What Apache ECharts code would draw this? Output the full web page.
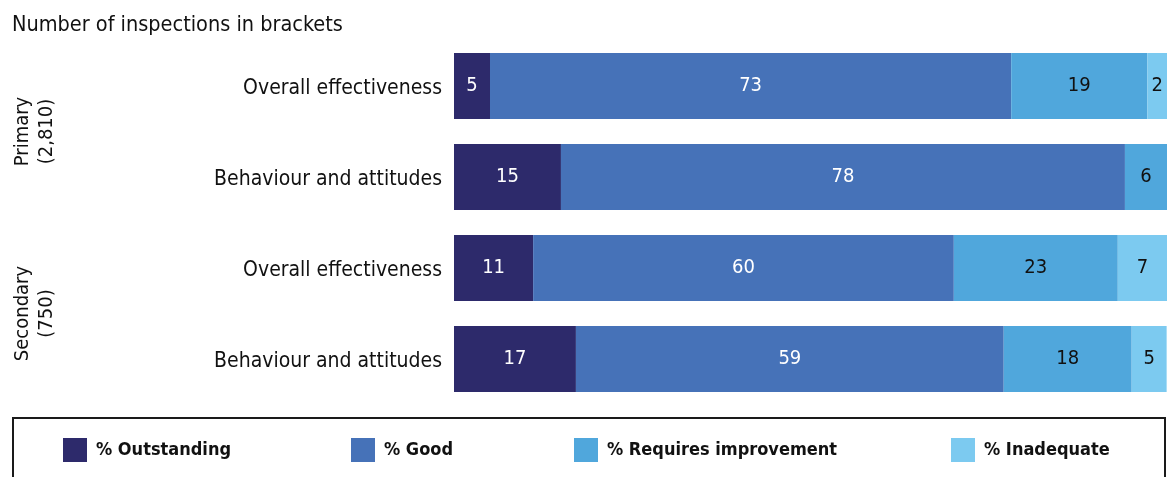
<!DOCTYPE html>
<html><head><meta charset="utf-8">
<script src="https://cdn.jsdelivr.net/npm/echarts@6/dist/echarts.min.js"></script>
<style>html,body{margin:0;padding:0;background:#fff}#c{width:1167px;height:477px}</style>
</head><body><div id="c"></div>
<script>
var FONT = '"DejaVu Sans Condensed", "DejaVu Sans", sans-serif';
var categories = ['Overall effectiveness', 'Behaviour and attitudes', 'Overall effectiveness', 'Behaviour and attitudes'];
var groupLabels = ['Primary\n(2,810)', 'Secondary\n(750)'];
var seriesNames = ['% Outstanding', '% Good', '% Requires improvement', '% Inadequate'];
// bar lengths (per cent)
var outstanding = [5.05, 15.0, 11.1, 17.1];
var good = [73.1, 79.1, 59.0, 60.0];
var requiresImprovement = [19.1, 5.9, 23.0, 17.95];
var inadequate = [2.8, null, 6.9, 4.9];
// printed (rounded) labels
var outstandingLabels = [5, 15, 11, 17];
var goodLabels = [73, 78, 60, 59];
var requiresImprovementLabels = [19, 6, 23, 18];
var inadequateLabels = [2, null, 7, 5];
var colors = ['#2d2a6b', '#4672b8', '#50a7dc', '#7ccaf0'];
var labelColors = ['#ffffff', '#ffffff', '#111111', '#111111'];

var values = [outstanding, good, requiresImprovement, inadequate];
var labels = [outstandingLabels, goodLabels, requiresImprovementLabels, inadequateLabels];

var ch = echarts.init(document.getElementById('c'));
var series = seriesNames.map(function (n, i) {
  return {
    name: n, type: 'bar', stack: 'all', barWidth: 66,
    data: values[i],
    itemStyle: { color: colors[i] },
    label: {
      show: true, position: 'inside', color: labelColors[i],
      fontFamily: FONT, fontSize: 20,
      formatter: function (p) { var v = labels[i][p.dataIndex]; return v == null ? '' : String(v); }
    },
    emphasis: { disabled: true }
  };
});
var legendLefts = [58, 346, 569, 946];
var legends = seriesNames.map(function (n, i) {
  return {
    data: [n], left: legendLefts[i], top: 433, itemWidth: 24, itemHeight: 24, icon: 'rect',
    selectedMode: false,
    textStyle: { fontFamily: FONT, fontSize: 18, fontWeight: 'bold', color: '#111', padding: [0, 0, 0, 4] }
  };
});
ch.setOption({
  animation: false,
  title: { text: 'Number of inspections in brackets', left: 7, top: 9,
    textStyle: { fontFamily: FONT, fontSize: 21.5, fontWeight: 'normal', color: '#111' } },
  grid: { left: 454, right: 0, top: 40.5, bottom: 72.5, containLabel: false },
  xAxis: { type: 'value', min: 0, max: 100, show: false },
  yAxis: [
    { type: 'category', inverse: true, data: categories,
      axisLine: { show: false }, axisTick: { show: false }, splitLine: { show: false },
      axisLabel: { margin: 12, color: '#111',
        formatter: function (v) { return '{c|' + v + '}'; },
        rich: { c: { fontFamily: FONT, fontSize: 21, color: '#111', padding: [5, 0, 0, 0] } } } },
    { type: 'category', inverse: true, data: groupLabels, position: 'left',
      axisLine: { show: false }, axisTick: { show: false }, splitLine: { show: false },
      axisLabel: { margin: 395, rotate: 90, fontFamily: FONT, fontSize: 20, lineHeight: 24, color: '#111' } }
  ],
  legend: legends,
  series: series,
  graphic: [
    { type: 'rect', shape: { x: 13, y: 418, width: 1152, height: 80 }, style: { fill: 'none', stroke: '#1a1a1a', lineWidth: 2 }, silent: true }
  ]
});
</script></body></html>
